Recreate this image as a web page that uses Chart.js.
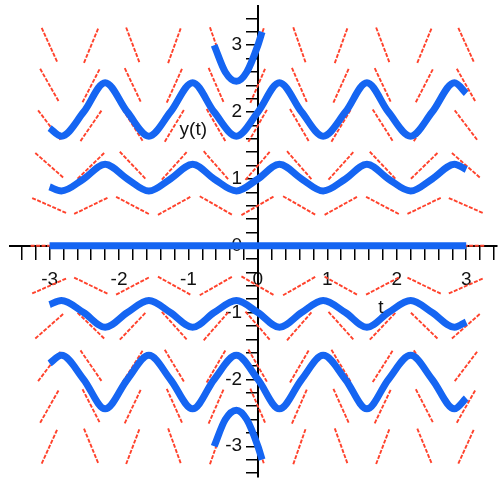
<!DOCTYPE html>
<html>
<head>
<meta charset="utf-8">
<script src="https://cdn.jsdelivr.net/npm/chart.js@4.4.1/dist/chart.umd.min.js"></script>
<style>
  html, body { margin: 0; padding: 0; background: #fff; }
  #wrap { width: 504px; height: 485px; position: relative; }
</style>
</head>
<body>
<div id="wrap"><canvas id="chart"></canvas></div>
<script>
// Solution curves at quarter periods
const tKnots = [-3, -2.83, -2.51, -2.20, -1.88, -1.57, -1.26, -0.94, -0.63, -0.31, 0, 0.31, 0.63, 0.94, 1.26, 1.57, 1.88, 2.20, 2.51, 2.83, 3];
const curveP2 = [1.76, 1.64, 2.0, 2.44, 2.0, 1.64, 2.0, 2.44, 2.0, 1.64, 2.0, 2.44, 2.0, 1.64, 2.0, 2.44, 2.0, 1.64, 2.0, 2.44, 2.28];
const curveP1 = [0.88, 0.82, 1.0, 1.22, 1.0, 0.82, 1.0, 1.22, 1.0, 0.82, 1.0, 1.22, 1.0, 0.82, 1.0, 1.22, 1.0, 0.82, 1.0, 1.22, 1.14];
const curveM1 = [-0.88, -0.82, -1.0, -1.22, -1.0, -0.82, -1.0, -1.22, -1.0, -0.82, -1.0, -1.22, -1.0, -0.82, -1.0, -1.22, -1.0, -0.82, -1.0, -1.22, -1.14];
const curveM2 = [-1.76, -1.64, -2.0, -2.44, -2.0, -1.64, -2.0, -2.44, -2.0, -1.64, -2.0, -2.44, -2.0, -1.64, -2.0, -2.44, -2.0, -1.64, -2.0, -2.44, -2.28];
const tZero = [-3, 3];
const curveZero = [0, 0];
// short pieces near y = +3 / -3 (cut off at the window edge)
const tEdge = [-0.63, -0.47, -0.31, -0.16, 0, 0.06];
const curveP3 = [3.0, 2.60, 2.46, 2.60, 3.0, 3.2];
const curveM3 = [-3.0, -2.60, -2.46, -2.60, -3.0, -3.2];

// direction field grid and slope per unit y for each column
const fieldT = [-3, -2.4, -1.8, -1.2, -0.6, 0, 0.6, 1.2, 1.8, 2.4, 3];
const fieldY = [-3, -2.4, -1.8, -1.2, -0.6, 0, 0.6, 1.2, 1.8, 2.4, 3];
const fieldRate = [-0.76, 0.84, -0.91, 0.96, -0.99, 1.0, -0.99, 0.96, -0.91, 0.84, -0.76];
const segLen = 38;

const xTickLabels = [-3, -2, -1, 0, 1, 2, 3];
const yTickLabels = [-3, -2, -1, 0, 1, 2, 3];

const blue = '#1565f2';
const fontFamily = '"Liberation Sans", Arial, sans-serif';

function pts(ts, ys) {
    return ts.map((t, i) => ({ x: t, y: ys[i] }));
}
function curve(ts, ys) {
    return {
        data: pts(ts, ys),
        showLine: true,
        borderColor: blue,
        borderWidth: 7,
        pointRadius: 0,
        cubicInterpolationMode: 'monotone',
        borderCapStyle: 'butt',
        borderJoinStyle: 'round'
    };
}
// labels only on whole numbers; trail keeps y labels off the axis line
function labelFor(list, trail) {
    return v => {
        const r = Math.round(v);
        return (Math.abs(v - r) < 1e-6 && list.includes(r)) ? String(r) + trail : '';
    };
}

// red slope segments, drawn under the curves
const fieldPlugin = {
    id: 'field',
    beforeDatasetsDraw(chart) {
        const { ctx, scales: { x, y } } = chart;
        const pxX = x.getPixelForValue(1) - x.getPixelForValue(0);
        const pxY = y.getPixelForValue(0) - y.getPixelForValue(1);
        ctx.save();
        ctx.strokeStyle = 'rgb(255, 66, 44)';
        ctx.lineWidth = 1.9;
        ctx.setLineDash([4, 1.5]);
        fieldT.forEach((t, i) => {
            fieldY.forEach(v => {
                const s = v * fieldRate[i];
                const dx = pxX, dy = -s * pxY;
                const k = (segLen / 2) / Math.hypot(dx, dy);
                const cx = x.getPixelForValue(t), cy = y.getPixelForValue(v);
                ctx.beginPath();
                ctx.moveTo(cx - dx * k, cy - dy * k);
                ctx.lineTo(cx + dx * k, cy + dy * k);
                ctx.stroke();
            });
        });
        ctx.restore();
    }
};

// axis names placed like in the original
const namesPlugin = {
    id: 'names',
    afterDatasetsDraw(chart) {
        const { ctx, scales: { x, y } } = chart;
        ctx.save();
        ctx.fillStyle = '#111';
        ctx.font = '19px ' + fontFamily;
        ctx.textAlign = 'center';
        ctx.textBaseline = 'middle';
        ctx.fillText('y(t)', x.getPixelForValue(-0.93), y.getPixelForValue(1.73));
        ctx.fillText('t', x.getPixelForValue(1.77), y.getPixelForValue(-0.93));
        ctx.restore();
    }
};

new Chart(document.getElementById('chart'), {
    type: 'scatter',
    data: {
        datasets: [
            curve(tKnots, curveP2),
            curve(tKnots, curveP1),
            curve(tZero, curveZero),
            curve(tKnots, curveM1),
            curve(tKnots, curveM2),
            curve(tEdge, curveP3),
            curve(tEdge, curveM3)
        ]
    },
    options: {
        responsive: true,
        maintainAspectRatio: false,
        animation: false,
        layout: { padding: { left: 10, right: 3, top: 5, bottom: 8 } },
        plugins: { legend: { display: false }, tooltip: { enabled: false } },
        scales: {
            x: {
                type: 'linear', min: -3.57, max: 3.44,
                position: { y: 0 },
                border: { display: true, color: '#000', width: 2 },
                grid: { drawOnChartArea: false, drawTicks: true, tickLength: 13, color: '#000', lineWidth: 1.5 },
                ticks: { stepSize: 0.2, includeBounds: false, autoSkip: false, maxRotation: 0, padding: 10,
                    color: '#111', font: { family: fontFamily, size: 19 }, callback: labelFor(xTickLabels, '') }
            },
            y: {
                type: 'linear', min: -3.46, max: 3.58,
                position: { x: 0 },
                border: { display: true, color: '#000', width: 2 },
                grid: { drawOnChartArea: false, drawTicks: true, tickLength: 11, color: '#000', lineWidth: 1.5 },
                // tiny line height so the labels do not push the plot area in
                ticks: { stepSize: 0.2, includeBounds: false, autoSkip: false, padding: 6,
                    color: '#111', font: { family: fontFamily, size: 19, lineHeight: 0.05 },
                    callback: labelFor(yTickLabels, '   ') }
            }
        }
    },
    plugins: [fieldPlugin, namesPlugin]
});
</script>
</body>
</html>
